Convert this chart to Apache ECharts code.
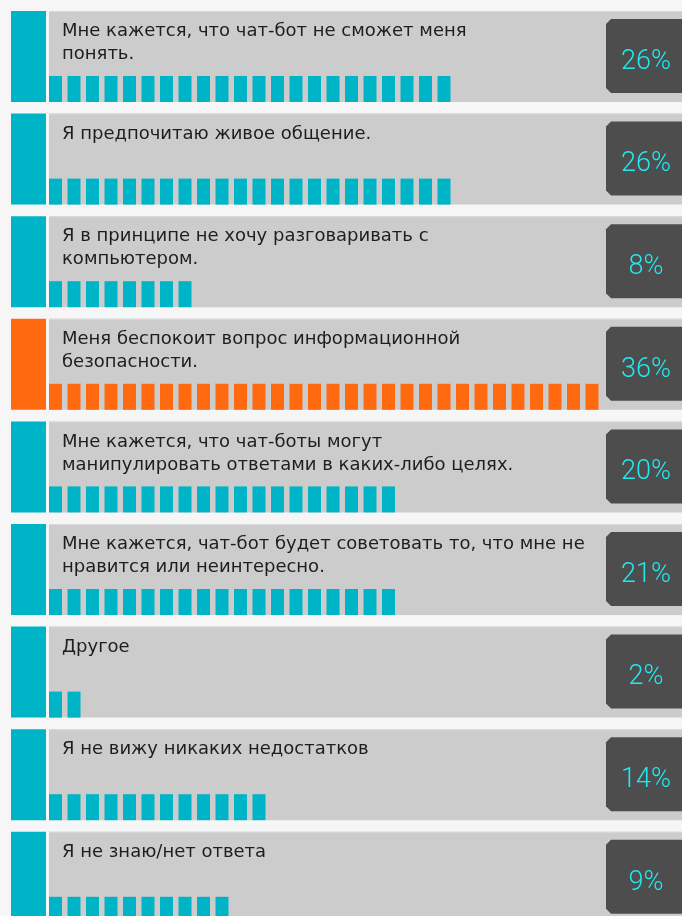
<!DOCTYPE html>
<html><head><meta charset="utf-8">
<script src="https://cdn.jsdelivr.net/npm/echarts@6/dist/echarts.min.js"></script>
<style>html,body{margin:0;padding:0;background:#f6f6f6}#c{width:682px;height:916px}</style>
</head><body><div id="c"></div>
<script>
const categories = [
  'Мне кажется, что чат-бот не сможет меня\nпонять.',
  'Я предпочитаю живое общение.',
  'Я в принципе не хочу разговаривать с\nкомпьютером.',
  'Меня беспокоит вопрос информационной\nбезопасности.',
  'Мне кажется, что чат-боты могут\nманипулировать ответами в каких-либо целях.',
  'Мне кажется, чат-бот будет советовать то, что мне не\nнравится или неинтересно.',
  'Другое',
  'Я не вижу никаких недостатков',
  'Я не знаю/нет ответа'
];
const shares = [26, 26, 8, 36, 20, 21, 2, 14, 9];
const segments = [22, 22, 8, 30, 19, 19, 2, 12, 10];
const highlightIndex = 3;

const CYAN = '#00b4c8', ORANGE = '#ff6a10';
const UNIT = 18.5, ROW_H = 91, BAND = 102.6;

function rowColor(i) { return i === highlightIndex ? ORANGE : CYAN; }

function renderItem(params, api) {
  const idx = api.value(1);
  const p = api.coord([0, idx]);
  const W = api.getWidth();
  const x0 = p[0];
  const top = p[1] - ROW_H / 2;
  const px = x0 + 2.75;
  const bx = W - 76, by = top + 8, bw = 84, bh = 74, c = 5;
  return {
    type: 'group',
    children: [
      { type: 'rect', shape: { x: x0 - 35.25, y: top, width: 35, height: ROW_H }, style: { fill: rowColor(idx) } },
      { type: 'rect', shape: { x: px, y: top, width: W - px, height: ROW_H }, style: { fill: '#cccccc' } },
      { type: 'rect', shape: { x: px, y: top, width: W - px, height: 1 }, style: { fill: '#dadada' } },
      { type: 'text', x: x0 + 15.75, y: top + 9, style: {
          text: categories[idx], fill: '#1e1e1e', fontSize: 18, fontFamily: '"DejaVu Sans"',
          lineHeight: 23, verticalAlign: 'top', align: 'left' } },
      { type: 'polygon', shape: { points: [
          [bx + c, by], [bx + bw, by], [bx + bw, by + bh], [bx + c, by + bh], [bx, by + bh - c], [bx, by + c]
        ] }, style: { fill: '#4d4d4d' } },
      { type: 'text', x: W - 36, y: top + 51, style: {
          text: shares[idx] + '%', fill: '#22e8f0', fontSize: 27, fontWeight: 300, fontFamily: 'Roboto',
          align: 'center', verticalAlign: 'middle' } }
    ]
  };
}

const chart = echarts.init(document.getElementById('c'));
chart.setOption({
  backgroundColor: '#f6f6f6',
  animation: false,
  grid: { left: 46.25, top: 11 + ROW_H / 2, width: 34 * UNIT, height: (categories.length - 1) * BAND },
  xAxis: { type: 'value', min: 0, max: 34, show: false },
  yAxis: { type: 'category', data: categories, inverse: true, show: false, boundaryGap: false },
  series: [
    { type: 'custom', renderItem: renderItem, data: categories.map((c, i) => [0, i]),
      encode: { x: 0, y: 1 }, z: 1, silent: true, clip: false },
    { type: 'pictorialBar', z: 3, silent: true,
      data: segments.map((v, i) => ({ value: v, itemStyle: { color: rowColor(i) } })),
      symbol: 'rect', symbolSize: [13, 26], symbolMargin: '2.75!', symbolRepeat: true,
      symbolPosition: 'start', symbolOffset: [0, ROW_H / 2 - 13] }
  ]
});
</script>
</body></html>
